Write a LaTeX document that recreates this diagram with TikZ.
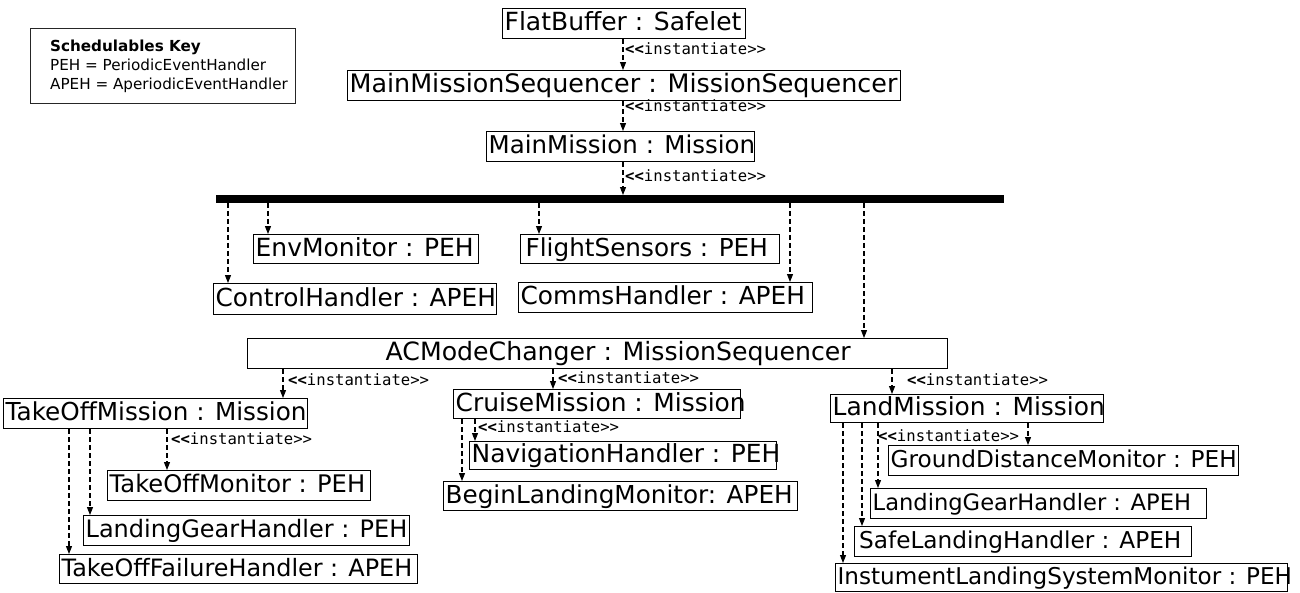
\documentclass[tikz,border=0pt]{standalone}
\usepackage{fontspec}
\setmainfont{DejaVu Sans}
\newfontfamily\monof{DejaVu Sans Mono}
\usetikzlibrary{arrows.meta}
\newcommand\fsz[1]{\fontsize{#1pt}{#1pt}\selectfont}
\newcommand\bx[2]{\makebox[#1pt][l]{#2}}
\newcommand\inst{{\bfseries <\kern0pt<}instantiate>\kern0pt>}
\begin{document}
\begin{tikzpicture}[x=1pt,y=-1pt,
  obj/.style={draw, line width=1.3pt, anchor=north west, inner xsep=2pt, inner ysep=0pt, text height=19pt, text depth=5pt},
  keybox/.style={draw=black!85, line width=1pt, anchor=north west, inner xsep=0pt, inner ysep=0pt, align=left, minimum width=265pt, minimum height=75pt, font=\fontsize{15.2pt}{19pt}\selectfont},
  lbl/.style={anchor=base west, inner sep=0pt, font=\monof\fsz{15.6}},
  dep/.style={line width=1.05pt, dash pattern=on 5pt off 3pt, -{Triangle[length=8pt,width=6pt]}},
]
\useasboundingbox[fill=white] (0,0) rectangle (1300,592);

% key
\node[keybox] (key) at (30,28) {\hspace*{12pt}\textbf{Schedulables Key}\\\hspace*{12pt}PEH = PeriodicEventHandler\\\hspace*{12pt}APEH = AperiodicEventHandler};

% top chain
\node[obj, minimum height=30pt, font=\fsz{25}] (fb) at (502,8) {\bx{239}{FlatBuffer : Safelet}};
\node[obj, minimum height=30pt, font=\fsz{25.4}] (mms) at (347,70) {\bx{549}{MainMissionSequencer : MissionSequencer}};
\node[obj, minimum height=30pt, font=\fsz{24.5}] (mm) at (486,131) {\bx{264}{MainMission : Mission}};
\node[fill=black, inner sep=0pt, minimum width=788pt, minimum height=7.5pt, anchor=north west] (bar) at (216,195) {};

% main mission handlers
\node[obj, minimum height=29pt, font=\fsz{25}] (env) at (253,234) {\bx{221}{EnvMonitor : PEH}};
\node[obj, minimum height=29pt, font=\fsz{24.7}] (flight) at (520,234) {\bx{255}{\hspace*{3pt}FlightSensors : PEH}};
\node[obj, minimum height=31pt, font=\fsz{24.8}] (ctrl) at (213,283) {\bx{279}{ControlHandler : APEH}};
\node[obj, minimum height=30pt, font=\fsz{24.8}] (comms) at (518,282) {\bx{290}{CommsHandler : APEH}};
\node[obj, minimum height=30pt, font=\fsz{25.2}] (acm) at (247,338) {\bx{696}{\hspace*{136pt}ACModeChanger : MissionSequencer}};

% missions
\node[obj, minimum height=30pt, font=\fsz{24.7}] (tom) at (3,398) {\bx{300}{TakeOffMission : Mission}};
\node[obj, minimum height=29pt, font=\fsz{24.9}] (cm) at (453,389) {\bx{283}{CruiseMission : Mission}};
\node[obj, minimum height=28pt, font=\fsz{24.9}] (lm) at (830,394) {\bx{269}{LandMission : Mission}};

% take off handlers
\node[obj, minimum height=30pt, font=\fsz{24.2}] (tomon) at (107,470) {\bx{259}{TakeOffMonitor : PEH}};
\node[obj, minimum height=30pt, font=\fsz{24}] (lgh) at (83,515) {\bx{322}{LandingGearHandler : PEH}};
\node[obj, minimum height=29pt, font=\fsz{23.9}] (tofh) at (59,554) {\bx{354}{TakeOffFailureHandler : APEH}};

% cruise handlers
\node[obj, minimum height=28pt, font=\fsz{24.9}] (nav) at (469,441) {\bx{303}{NavigationHandler : PEH}};
\node[obj, minimum height=29pt, font=\fsz{24.7}] (blm) at (443,481) {\bx{350}{BeginLandingMonitor: APEH}};

% land handlers
\node[obj, minimum height=30pt, font=\fsz{23.2}] (gdm) at (888,445) {\bx{346}{GroundDistanceMonitor : PEH}};
\node[obj, minimum height=30pt, font=\fsz{22.6}] (lga) at (870,488) {\bx{332}{LandingGearHandler : APEH}};
\node[obj, minimum height=30pt, font=\fsz{23.2}] (slh) at (854,526) {\bx{333}{\hspace*{2.5pt}SafeLandingHandler : APEH}};
\node[obj, minimum height=28pt, font=\fsz{23.1}] (ilsm) at (835,563) {\bx{448}{InstumentLandingSystemMonitor : PEH}};

% connectors
\draw[dep] (fb.south -| 623,0) -- (mms.north -| 623,0);
\draw[dep] (mms.south -| 623,0) -- (mm.north -| 623,0);
\draw[dep] (mm.south -| 623,0) -- (bar.north -| 623,0);

\draw[dep] (bar.south -| 228,0) -- (ctrl.north -| 228,0);
\draw[dep] (bar.south -| 268,0) -- (env.north -| 268,0);
\draw[dep] (bar.south -| 539,0) -- (flight.north -| 539,0);
\draw[dep] (bar.south -| 790,0) -- (comms.north -| 790,0);
\draw[dep] (bar.south -| 864,0) -- (acm.north -| 864,0);

\draw[dep] (acm.south -| 283,0) -- (tom.north -| 283,0);
\draw[dep] (acm.south -| 553,0) -- (cm.north -| 553,0);
\draw[dep] (acm.south -| 892,0) -- (lm.north -| 892,0);

\draw[dep] (tom.south -| 69,0) -- (tofh.north -| 69,0);
\draw[dep] (tom.south -| 90,0) -- (lgh.north -| 90,0);
\draw[dep] (tom.south -| 167,0) -- (tomon.north -| 167,0);

\draw[dep] (cm.south -| 462,0) -- (blm.north -| 462,0);
\draw[dep] (cm.south -| 475,0) -- (nav.north -| 475,0);

\draw[dep] (lm.south -| 843,0) -- (ilsm.north -| 843,0);
\draw[dep] (lm.south -| 862,0) -- (slh.north -| 862,0);
\draw[dep] (lm.south -| 878,0) -- (lga.north -| 878,0);
\draw[dep] (lm.south -| 1028,0) -- (gdm.north -| 1028,0);

% labels
\node[lbl] (l1) at (625,54) {\inst};
\node[lbl] (l2) at (625,111) {\inst};
\node[lbl] (l3) at (625,181) {\inst};
\node[lbl] (l4) at (288,385) {\inst};
\node[lbl] (l5) at (558,383) {\inst};
\node[lbl] (l6) at (907,385) {\inst};
\node[lbl] (l7) at (171,444) {\inst};
\node[lbl] (l8) at (478,432) {\inst};
\node[lbl] (l9) at (878,441) {\inst};
\end{tikzpicture}
\end{document}
